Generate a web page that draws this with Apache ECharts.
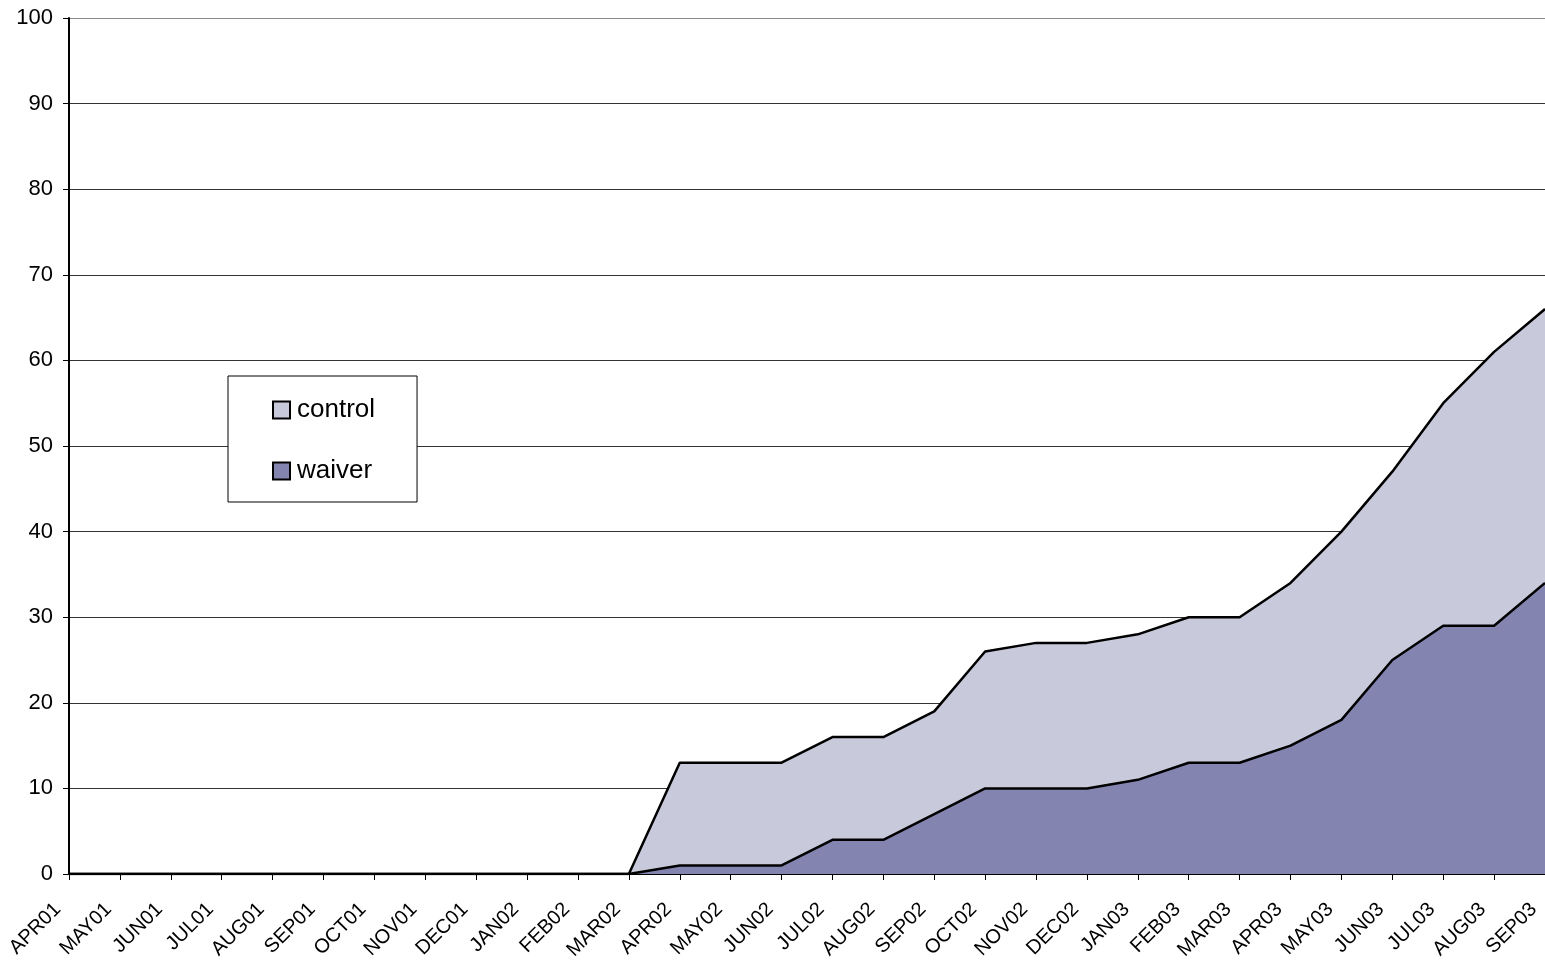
<!DOCTYPE html>
<html>
<head>
<meta charset="utf-8">
<script src="https://cdn.jsdelivr.net/npm/echarts@6/dist/echarts.min.js"></script>
<style>
html,body{margin:0;padding:0;background:#fff;}
#chart{width:1545px;height:962px;}
</style>
</head>
<body>
<div id="chart"></div>
<script>
const categories = ['APR01','MAY01','JUN01','JUL01','AUG01','SEP01','OCT01','NOV01','DEC01','JAN02','FEB02','MAR02',
  'APR02','MAY02','JUN02','JUL02','AUG02','SEP02','OCT02','NOV02','DEC02','JAN03','FEB03','MAR03',
  'APR03','MAY03','JUN03','JUL03','AUG03','SEP03'];
const waiver = [0,0,0,0,0,0,0,0,0,0,0,0,
  1,1,1,4,4,7,10,10,10,11,13,13,15,18,25,29,29,34];
const control = [0,0,0,0,0,0,0,0,0,0,0,0,
  12,12,12,12,12,12,16,17,17,17,17,17,19,22,22,26,32,32];
const yTicks = [0,10,20,30,40,50,60,70,80,90,100];

const FONT = "'Liberation Sans', Arial, sans-serif";
const gridColors = yTicks.map((v, i) => i === yTicks.length - 1 ? '#8a8a8a' : '#333');
const chart = echarts.init(document.getElementById('chart'), null, {renderer:'canvas'});
chart.setOption({
  animation: false,
  backgroundColor: '#fff',
  textStyle: {fontFamily: FONT},
  grid: {left: 69, right: 0, top: 18, bottom: 88, containLabel: false, outerBoundsMode: 'none'},
  legend: {
    orient: 'vertical',
    left: 228, top: 376,
    padding: [21, 42, 18, 44],
    itemGap: 35,
    itemWidth: 17, itemHeight: 17,
    icon: 'rect',
    itemStyle: {borderColor: '#000', borderWidth: 2},
    backgroundColor: '#fff',
    borderColor: '#000', borderWidth: 1,
    data: ['control','waiver'],
    textStyle: {fontFamily: FONT, fontSize: 26, color: '#000', padding: [0,0,0,2]}
  },
  xAxis: {
    type: 'category',
    data: categories,
    boundaryGap: false,
    axisLine: {lineStyle: {color: '#000', width: 2}},
    axisTick: {show: true, length: 6, lineStyle: {color: '#000', width: 1}},
    axisLabel: {rotate: 45, interval: 0, margin: 21, padding: [0, 16, 0, 0],
      fontFamily: FONT, fontSize: 20, color: '#000'},
    splitLine: {show: false}
  },
  yAxis: {
    type: 'value',
    min: yTicks[0], max: yTicks[yTicks.length-1], interval: 10,
    axisLine: {show: true, lineStyle: {color: '#000', width: 2}},
    axisTick: {show: true, length: 6, lineStyle: {color: '#000', width: 1}},
    axisLabel: {margin: 16, fontFamily: FONT, fontSize: 22, color: '#000'},
    splitLine: {show: true, lineStyle: {color: gridColors, width: 1}}
  },
  series: [
    {
      name: 'waiver', type: 'line', stack: 'total', data: waiver,
      color: '#8484B0',
      showSymbol: false, symbol: 'none',
      lineStyle: {color: '#000', width: 2.5},
      areaStyle: {color: '#8484B0', opacity: 1},
      z: 3
    },
    {
      name: 'control', type: 'line', stack: 'total', data: control,
      color: '#C9C9DC',
      showSymbol: false, symbol: 'none',
      lineStyle: {color: '#000', width: 2.5},
      areaStyle: {color: '#C9C9DC', opacity: 1},
      z: 2
    }
  ]
});
</script>
</body>
</html>
